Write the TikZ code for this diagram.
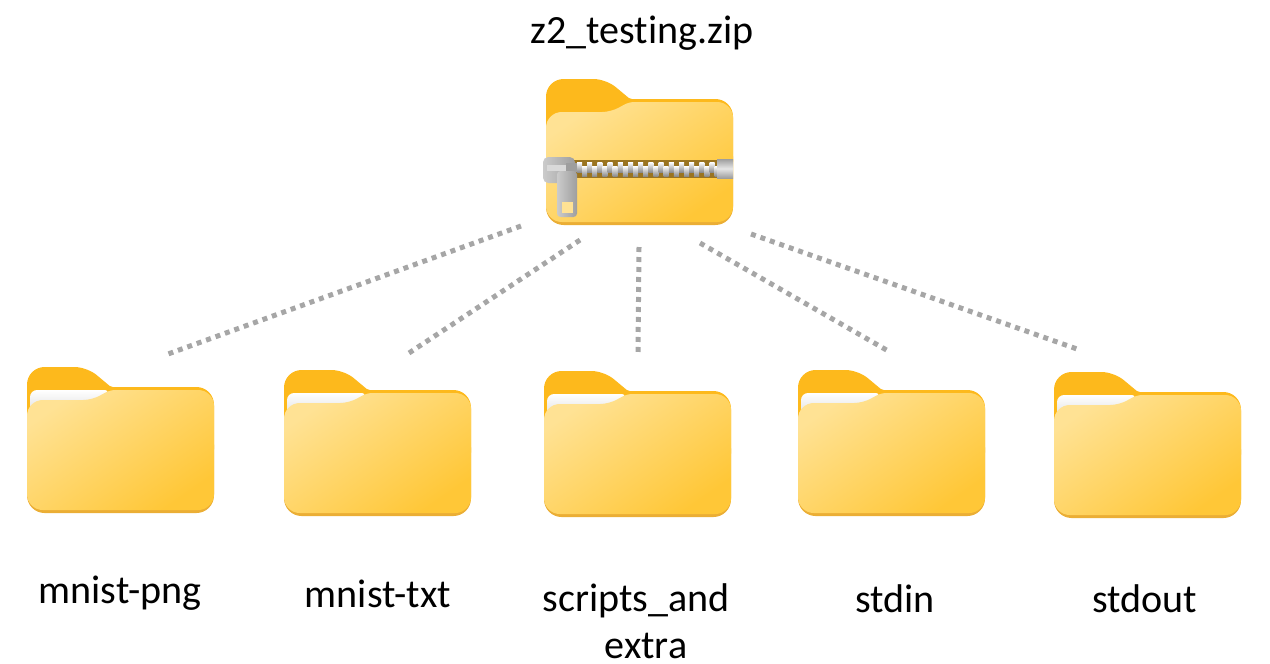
\documentclass[tikz,border=0pt]{standalone}
\usepackage{fontspec}
\setmainfont{Carlito}[Ligatures=NoCommon]
\definecolor{tabYellow}{HTML}{FDB91C}
\definecolor{rimYellow}{HTML}{EBAE35}
\definecolor{lightYellow}{HTML}{FFE294}
\definecolor{deepYellow}{HTML}{FFC737}
\definecolor{dotGray}{HTML}{A6A6A6}
\definecolor{zipBrown}{HTML}{9A7420}
\definecolor{zipSilver}{HTML}{CBCBCB}
\definecolor{zipDark}{HTML}{9E9E9E}
\tikzset{
  folderBack/.pic={
    \fill[tabYellow] (0,100) [rounded corners=10] -- (0,0) [rounded corners=7] -- (60,0)
      [rounded corners=1] -- (84,20) [rounded corners=10] -- (187,20) -- (187,100) -- cycle;
    \fill[rimYellow] (0,146) [rounded corners=10] -- (0,60) -- (187,60) -- (187,146) -- cycle;
  },
  folderFront/.pic={
    \shade[left color=lightYellow,right color=deepYellow,shading angle=35]
      (0,143) [rounded corners=9] -- (0,33) [rounded corners=5] -- (65,33)
      [rounded corners=3] -- (83,23) [rounded corners=9] -- (187,23)
      -- (187,143) -- cycle;
  },
  folderPaper/.pic={
    \shade[top color=white,bottom color=black!12,rounded corners=4]
      (3,45) -- (3,23) -- (84,23) -- (66,36) -- (66,45) -- cycle;
  }
}
\begin{document}
\begin{tikzpicture}
[x=0.02cm,y=-0.02cm,
  dotDecorate/.style={dotGray,line width=0.1cm,dash pattern=on 0.1cm off 0.1cm},%
  nodeDecorate/.style={shape=rectangle,minimum width=3.74cm,minimum height=2.92cm,inner sep=0pt},%
  textDecorate/.style={font=\fontsize{22.8}{27}\selectfont,align=center,inner sep=0pt},%
  toothDecorate/.style={top color=white,bottom color=black!45}]
\useasboundingbox (0,0) rectangle (1270,663);
%% folders
\foreach \nodename/\x/\y in {
  mnistpng/27/367, mnisttxt/284/370, scripts/544/371, stdin/798/370, stdout/1054/372}
{
  \pic at (\x,\y) {folderBack};
  \pic at (\x,\y) {folderPaper};
  \pic at (\x,\y) {folderFront};
  \node (\nodename) at (\x+93.5,\y+73) [nodeDecorate] {};
}
%% zip folder
\pic at (546,79) {folderBack};
\pic at (546,79) {folderFront};
\node (zip) at (639,152) [nodeDecorate] {};
\fill[zipBrown] (573,160) rectangle (718,178);
\foreach \i in {0,...,13}
{
  \shade[toothDecorate] (577+10.2*\i,162) rectangle +(5,10);
  \shade[toothDecorate] (582+10.2*\i,166) rectangle +(5,10);
}
\shade[top color=zipDark,bottom color=zipDark,middle color=white!90!black] (717,159) rectangle (733,178);
\shade[left color=zipSilver,right color=zipDark,rounded corners=3] (543,157) rectangle (575,183);
\fill[white!85!black] (547,165) rectangle (576,171);
\fill[zipDark] (566,163) rectangle (577,172);
\shade[left color=zipSilver,right color=zipDark,rounded corners=2] (557,171) rectangle (577,217);
\fill[lightYellow] (562,202) rectangle (573,213);
%% labels
\foreach \nodename/\x/\y/\caption in {
  ziplabel/642/33/z2\_testing.zip, pnglabel/120/593/mnist-png, txtlabel/378/594/mnist-txt,
  scriptslabel/636/621/{scripts\_and\\\hspace{0.4cm}extra}, stdinlabel/895/599/stdin, stdoutlabel/1145/599/stdout}
{
  \node (\nodename) at (\x,\y) [textDecorate] {\caption};
}
%% line ends
\foreach \nodename/\x/\y in {
  zipa/521/226, zipb/580/240, zipc/639/247, zipd/700/243, zipe/751/234,
  inpng/168/354, intxt/409/353, inscripts/638/352, instdin/890/352, instdout/1077/349}
{
  \coordinate (\nodename) at (\x,\y);
}
%% edges or lines
\path
\foreach \startnode/\endnode in {zipa/inpng, zipb/intxt, zipc/inscripts, zipd/instdin, zipe/instdout}
{
  (\startnode) edge[dotDecorate] (\endnode)
};
\end{tikzpicture}
\end{document}
